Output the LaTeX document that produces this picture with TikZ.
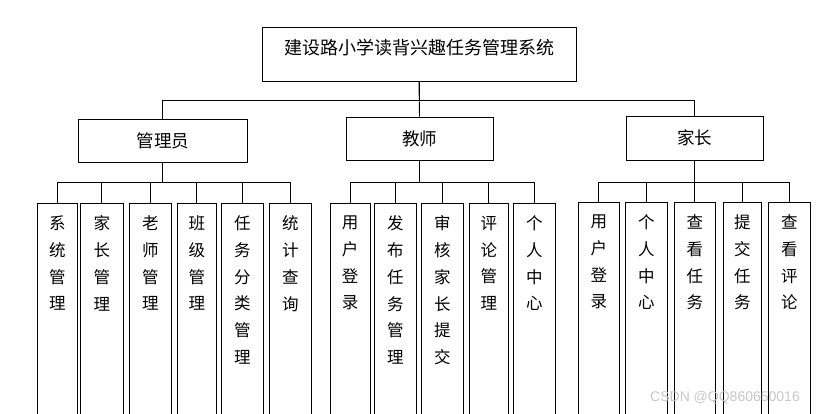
\documentclass[tikz,border=0pt]{standalone}
\usepackage{fontspec}
\newfontfamily\cjk{Noto Sans CJK SC}
\newfontfamily\wmfont{Liberation Sans}
\usetikzlibrary{calc}
\begin{document}
\begin{tikzpicture}[x=1pt,y=-1pt,
  box/.style={draw, line width=1pt, rectangle, inner sep=0pt, font=\cjk\fontsize{17.5}{20}\selectfont},
  titletext/.style={inner sep=0pt, font=\cjk\fontsize{18}{20}\selectfont},
  leafbox/.style={draw, line width=1pt, rectangle, inner sep=0pt, anchor=north, minimum height=217},
  leaftext/.style={inner sep=0pt, anchor=north, align=center, font=\cjk\fontsize{16.5}{26.7}\selectfont},
  conn/.style={draw, line width=0.9pt},
  wm/.style={inner sep=0pt, text=black!22, font=\wmfont\fontsize{14}{14}\selectfont}
]
\useasboundingbox (0,0) rectangle (829,413);
\clip (0,0) rectangle (829,413);

% top
\node[box, minimum width=314, minimum height=54] (sys) at (419,54) {};
\node[titletext] (syst) at (419,47.7) {建设路小学读背兴趣任务管理系统};

% middle
\node[box, minimum width=169, minimum height=43] (admin) at (162.8,140.5) {管理员};
\node[box, minimum width=147, minimum height=43] (teacher) at (419.5,138.5) {教师};
\node[box, minimum width=137, minimum height=44] (parent) at (694.5,138) {家长};

\draw[conn] (sys.south) -- ++(0,19) -| (admin.north);
\draw[conn] (sys.south) -- (teacher.north);
\draw[conn] (sys.south) -- ++(0,19) -| (parent.north);

% admin leaves
\foreach \nm/\cx/\w/\txt in {
  a1/57.3/40/{系\\统\\管\\理},
  a2/101.8/43/{家\\长\\管\\理},
  a3/150.3/42/{老\\师\\管\\理},
  a4/196.8/39/{班\\级\\管\\理},
  a5/242.3/42/{任\\务\\分\\类\\管\\理},
  a6/290.3/42/{统\\计\\查\\询}} {
  \node[leafbox, minimum width=\w] (\nm) at (\cx,203.3) {};
  \node[leaftext] (\nm t) at ($(\nm.north)+(0,12.5)$) {\txt};
  \draw[conn] (admin.south) -- ++(0,20.3) -| (\nm.north);
}

% teacher leaves
\foreach \nm/\cx/\w/\txt in {
  t1/350.2/39.7/{用\\户\\登\\录},
  t2/395.3/42/{发\\布\\任\\务\\管\\理},
  t3/442.3/42/{审\\核\\家\\长\\提\\交},
  t4/488.8/39/{评\\论\\管\\理},
  t5/534.3/42/{个\\人\\中\\心}} {
  \node[leafbox, minimum width=\w] (\nm) at (\cx,203.3) {};
  \node[leaftext] (\nm t) at ($(\nm.north)+(0,12.5)$) {\txt};
  \draw[conn] (teacher.south) -- ++(0,22.3) -| (\nm.north);
}

% parent leaves
\foreach \nm/\cx/\w/\txt in {
  p1/598.8/41/{用\\户\\登\\录},
  p2/646.3/42/{个\\人\\中\\心},
  p3/694.8/41/{查\\看\\任\\务},
  p4/742.3/38/{提\\交\\任\\务},
  p5/789.3/42/{查\\看\\评\\论}} {
  \node[leafbox, minimum width=\w] (\nm) at (\cx,202.3) {};
  \node[leaftext] (\nm t) at ($(\nm.north)+(0,12.5)$) {\txt};
  \draw[conn] (parent.south) -- ++(0,21.7) -| (\nm.north);
}

\node[wm] (wmark) at (725,398) {CSDN @QQ860650016};
\end{tikzpicture}
\end{document}
